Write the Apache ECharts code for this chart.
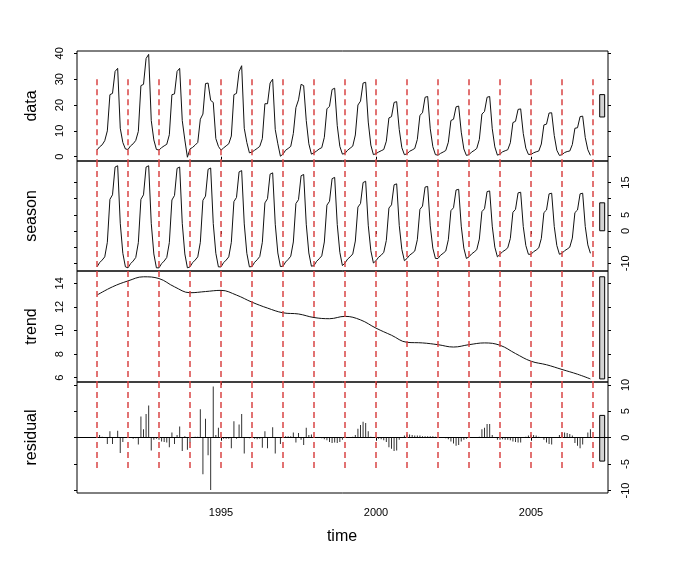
<!DOCTYPE html>
<html>
<head>
<meta charset="utf-8">
<script src="https://cdn.jsdelivr.net/npm/echarts@6/dist/echarts.min.js"></script>
<style>html,body{margin:0;padding:0;background:#fff}#c1{width:685px;height:570px}</style>
</head>
<body>
<div id="c1"></div>
<script>
// monthly series, 1991.0 .. 2006.917 (one row per year)
var startYear = 1991;

var dataVals = [
  2.6, 3.8, 4.6, 6.2, 10.0, 24.0, 24.5, 33.0, 34.2, 11.0, 5.5, 3.0,
  2.8, 4.2, 5.0, 6.3, 9.8, 27.5, 28.0, 38.0, 39.6, 14.0, 6.5, 2.8,
  2.6, 3.5, 4.2, 4.8, 8.5, 24.0, 24.3, 33.0, 34.2, 14.0, 6.5, -0.2,
  3.0, 3.6, 4.5, 5.5, 14.5, 16.5, 28.3, 28.5, 21.8, 21.0, 7.0, 4.0,
  2.5, 3.4, 4.2, 5.0, 8.0, 24.0, 24.5, 33.0, 35.2, 11.0, 5.5, 1.5,
  1.8, 2.5, 3.2, 4.0, 7.0, 20.5, 20.5, 28.5, 30.0, 10.5, 5.0, 0.2,
  1.0, 2.5, 3.2, 4.0, 9.0, 19.0, 22.0, 28.0, 27.5, 14.0, 5.0, 1.0,
  1.5, 2.2, 3.0, 3.5, 7.5, 18.5, 19.5, 26.0, 26.5, 12.0, 4.0, 1.0,
  1.3, 2.5, 3.3, 4.1, 8.4, 20.0, 21.5, 28.5, 28.8, 13.4, 4.5, 0.8,
  1.2, 1.8, 2.3, 2.8, 6.0, 15.0, 15.5, 21.0, 21.3, 10.5, 3.5, 0.8,
  1.1, 2.1, 2.6, 3.2, 6.7, 16.0, 17.0, 23.0, 23.3, 10.8, 3.9, 0.8,
  0.6, 1.3, 1.8, 2.4, 5.6, 14.0, 14.5, 19.3, 19.6, 9.5, 3.0, 0.5,
  0.8, 1.8, 2.4, 3.2, 6.7, 16.5, 17.5, 23.0, 23.3, 10.8, 3.8, 0.6,
  1.0, 1.9, 2.3, 2.7, 5.4, 13.2, 13.7, 18.3, 18.5, 9.0, 3.3, 0.9,
  0.9, 1.5, 1.9, 2.2, 4.9, 12.3, 12.6, 16.9, 17.0, 8.2, 2.5, 0.5,
  0.8, 1.6, 2.0, 2.2, 4.7, 11.0, 11.2, 15.5, 15.7, 7.4, 2.7, 0.5
];

var seasonVals = [
  -11.1, -9.8, -9.0, -8.0, -3.5, 9.8, 11.2, 19.8, 20.2, 2.4, -6.9, -11.1,
  -11.4, -10.1, -9.3, -8.2, -3.6, 9.8, 11.2, 19.8, 20.2, 2.4, -7.1, -11.4,
  -11.4, -10.1, -9.3, -8.2, -3.6, 9.6, 11.0, 19.4, 19.8, 2.4, -7.1, -11.4,
  -11.1, -9.8, -9.0, -8.0, -3.5, 9.5, 10.8, 19.1, 19.5, 2.3, -6.9, -11.1,
  -11.1, -9.8, -9.0, -8.0, -3.5, 9.1, 10.4, 18.3, 18.7, 2.2, -6.9, -11.1,
  -11.0, -9.7, -8.9, -7.9, -3.5, 8.7, 10.0, 17.6, 18.0, 2.1, -6.8, -11.0,
  -10.9, -9.6, -8.8, -7.8, -3.4, 8.5, 9.7, 17.1, 17.5, 2.1, -6.8, -10.9,
  -10.7, -9.4, -8.6, -7.7, -3.4, 8.0, 9.2, 16.2, 16.6, 2.0, -6.6, -10.7,
  -9.9, -8.7, -8.0, -7.1, -3.1, 7.4, 8.5, 15.0, 15.4, 1.8, -6.1, -9.9,
  -9.2, -8.1, -7.5, -6.6, -2.9, 7.1, 8.1, 14.3, 14.6, 1.7, -5.7, -9.2,
  -8.5, -7.5, -6.9, -6.2, -2.7, 6.7, 7.7, 13.6, 13.8, 1.6, -5.3, -8.5,
  -8.5, -7.5, -6.9, -6.2, -2.7, 6.3, 7.2, 12.7, 12.9, 1.5, -5.3, -8.5,
  -8.0, -7.1, -6.5, -5.8, -2.5, 6.0, 6.9, 12.2, 12.4, 1.5, -5.0, -8.0,
  -7.2, -6.4, -5.9, -5.2, -2.3, 5.8, 6.7, 11.8, 12.0, 1.4, -4.5, -7.2,
  -7.2, -6.4, -5.9, -5.2, -2.3, 5.7, 6.5, 11.5, 11.7, 1.4, -4.5, -7.2,
  -6.9, -6.1, -5.6, -5.0, -2.2, 5.7, 6.5, 11.5, 11.7, 1.4, -4.3, -6.9
];

var residVals = [
  0, 0.5, 0.2, 0, -1.2, 1.2, -1.2, 0, 1.3, -2.9, -0.8, 0,
  0, 0.1, -0.2, -0.1, -1.3, 4.0, 1.6, 4.5, 6.1, -2.4, -0.4, -0.2,
  -0.4, -0.7, -0.8, -0.9, -1.8, 1.0, -1.2, 0.5, 2.1, -2.5, 0.3, -2.3,
  -0.9, 0.1, 0.2, 0.2, 5.4, -6.9, 3.6, -3.3, -9.9, 9.7, 0.5, 1.9,
  0, -0.2, -0.2, -0.2, -2.0, 3.1, -0.2, 2.5, 4.5, -3.0, 0.1, -0.1,
  0, -0.2, -0.3, -0.2, -1.9, 1.2, -2.0, 0.1, 2.0, -3.0, 0.1, -1.2,
  0.1, 0.3, 0.3, 0.3, 1.0, -0.9, 0.9, -0.4, -1.4, 1.9, 0.5, 0.6,
  0, 0, 0.05, -0.1, -0.3, -0.5, -0.8, -1.0, -0.9, -1.0, -0.8, -0.4,
  0, 0, 0.1, 0.2, 0.5, 1.7, 2.4, 3.0, 2.8, 1.2, 0.2, 0,
  0, -0.2, -0.3, -0.5, -0.8, -1.8, -2.1, -2.5, -2.4, -0.4, 0, 0.4,
  0.6, 0.6, 0.5, 0.4, 0.4, 0.4, 0.3, 0.3, 0.3, 0.3, 0.3, 0.2,
  0.1, 0, -0.05, -0.1, -0.3, -0.7, -1.1, -1.5, -1.4, -0.7, -0.4, -0.2,
  0, 0, 0, 0.05, 0.2, 1.6, 1.9, 2.6, 2.6, 0.5, 0, -0.4,
  -0.4, -0.3, -0.4, -0.4, -0.5, -0.7, -0.8, -0.9, -0.9, 0, 0.2, 0.4,
  0.5, 0.5, 0.4, 0.2, 0, -0.4, -0.9, -1.2, -1.3, 0, 0.1, 0.5,
  1.0, 1.0, 0.9, 0.7, 0.4, -1.0, -1.5, -2.0, -1.3, 0, 1.0, 1.6
];

// trend read at half-year steps
var trendTime = [1991, 1991.5, 1992, 1992.5, 1993, 1993.5, 1994, 1994.5, 1995, 1995.5,
  1996, 1996.5, 1997, 1997.5, 1998, 1998.5, 1999, 1999.5, 2000, 2000.5,
  2001, 2001.5, 2002, 2002.5, 2003, 2003.5, 2004, 2004.5, 2005, 2005.5,
  2006, 2006.5, 2006.917];
var trendVals = [13.0, 13.7, 14.2, 14.55, 14.4, 13.7, 13.2, 13.3, 13.4, 13.0,
  12.4, 11.9, 11.5, 11.4, 11.1, 11.0, 11.2, 10.9, 10.2, 9.6,
  9.0, 8.95, 8.8, 8.6, 8.8, 8.95, 8.75, 8.05, 7.4, 7.1,
  6.7, 6.3, 5.9];

var redYears = [1991, 1992, 1993, 1994, 1995, 1996, 1997, 1998, 1999, 2000,
  2001, 2002, 2003, 2004, 2005, 2006, 2007];
var redTop = 30, redBottom = -6;   // in data units / residual units

var xTicks = [1995, 2000, 2005];
var panelNames = ['data', 'season', 'trend', 'residual'];
var dataTicks = [0, 10, 20, 30, 40];
var seasonTicks = [-10, -5, 0, 5, 10, 15];
var seasonLabels = [-10, 0, 5, 15];
var trendTicks = [6, 8, 10, 12, 14];
var residTicks = [-10, -5, 0, 5, 10];

var FONT = 'Liberation Sans, Arial, Helvetica, sans-serif';
// 531px wide plot, 31px per year, years land on whole pixels
var xMin = 1991 - 20 / 31, xMax = xMin + 531 / 31;

var time = dataVals.map(function (v, i) { return startYear + i / 12; });
function pairs(vals) { return vals.map(function (v, i) { return [time[i], v]; }); }

var panels = [
  {top: 51, height: 110, min: -1.66, max: 40.9, ticks: dataTicks, labels: dataTicks, side: 'left', vals: dataVals},
  {top: 161, height: 110, min: -12.38, max: 21.67, ticks: seasonTicks, labels: seasonLabels, side: 'right', vals: seasonVals},
  {top: 271, height: 111, min: 5.64, max: 15.04, ticks: trendTicks, labels: trendTicks, side: 'left', vals: trendVals},
  {top: 382, height: 111, min: -10.47, max: 10.55, ticks: residTicks, labels: residTicks, side: 'right', vals: residVals}
];

function range(a) { return [Math.min.apply(null, a), Math.max.apply(null, a)]; }
// range bar height = smallest panel range (as plot.stl does)
var mx = Math.min.apply(null, panels.map(function (p) { var r = range(p.vals); return r[1] - r[0]; }));
var dx = (xMax - xMin) / 64;

function rangeBar(p) {
  var r = range(p.vals), c = (r[0] + r[1]) / 2;
  return {
    silent: true,
    itemStyle: {color: '#d3d3d3', borderColor: '#000', borderWidth: 1},
    data: [[{coord: [xMax - dx, c - mx / 2]}, {coord: [xMax - 0.4 * dx, c + mx / 2]}]]
  };
}

function redLines(top, bot) {
  return redYears.map(function (y) {
    return [{coord: [y, top]}, {coord: [y, bot]}];
  });
}

function plain(v) { return String(v); }

var grids = [], xAxes = [], yAxes = [], series = [];
panels.forEach(function (p, i) {
  grids.push({left: 77, width: 531, top: p.top, height: p.height, show: true,
    borderColor: '#000', borderWidth: 1, backgroundColor: 'transparent'});
  var last = i === panels.length - 1;
  xAxes.push({
    type: 'value', gridIndex: i, min: xMin, max: xMax,
    axisLine: {show: false}, splitLine: {show: false},
    axisTick: {show: true, length: 3, customValues: xTicks, lineStyle: {color: '#000'}},
    axisLabel: {show: last, customValues: xTicks, formatter: plain, margin: 14, fontSize: 11,
      color: '#000', fontFamily: FONT}
  });
  ['left', 'right'].forEach(function (pos) {
    yAxes.push({
      type: 'value', gridIndex: i, position: pos, min: p.min, max: p.max,
      axisLine: {show: false}, splitLine: {show: false},
      axisTick: {show: true, length: 3, customValues: p.ticks, lineStyle: {color: '#000'}},
      axisLabel: {show: pos === p.side, rotate: 90, margin: 12, fontSize: 11, color: '#000',
        fontFamily: FONT, formatter: plain, customValues: p.labels}
    });
  });
});

var lineTop = [redTop, panels[1].max, panels[2].max, panels[3].max];
var lineBot = [panels[0].min, panels[1].min, panels[2].min, redBottom];
var redStyle = {color: '#d94444', width: 1.5, type: [6, 4]};

function markLines(i, extra) {
  var d = redLines(lineTop[i], lineBot[i]);
  return {silent: true, symbol: 'none', label: {show: false}, lineStyle: redStyle,
    data: extra ? extra.concat(d) : d};
}

series.push({type: 'line', xAxisIndex: 0, yAxisIndex: 0, data: pairs(dataVals), showSymbol: false,
  lineStyle: {color: '#111', width: 1}, markLine: markLines(0), markArea: rangeBar(panels[0])});
series.push({type: 'line', xAxisIndex: 1, yAxisIndex: 2, data: pairs(seasonVals), showSymbol: false,
  lineStyle: {color: '#111', width: 1}, markLine: markLines(1), markArea: rangeBar(panels[1])});
series.push({type: 'line', xAxisIndex: 2, yAxisIndex: 4, smooth: 0.4,
  data: trendVals.map(function (v, i) { return [trendTime[i], v]; }), showSymbol: false,
  lineStyle: {color: '#111', width: 1}, markLine: markLines(2), markArea: rangeBar(panels[2])});
series.push({type: 'bar', xAxisIndex: 3, yAxisIndex: 6, data: pairs(residVals), barWidth: 1,
  itemStyle: {color: '#333'},
  markLine: markLines(3, [{yAxis: 0, lineStyle: {color: '#000', width: 1, type: 'solid'}}]),
  markArea: rangeBar(panels[3])});

var titles = panelNames.map(function (n, i) {
  return {type: 'text', x: 32, y: panels[i].top + panels[i].height / 2, rotation: Math.PI / 2,
    style: {text: n, font: '16px ' + FONT, fill: '#000', textAlign: 'center', textVerticalAlign: 'middle'}};
});
titles.push({type: 'text', x: 342, y: 537,
  style: {text: 'time', font: '16px ' + FONT, fill: '#000', textAlign: 'center', textVerticalAlign: 'middle'}});

var c1_chart = echarts.init(document.getElementById('c1'));
c1_chart.setOption({
  animation: false,
  backgroundColor: '#fff',
  grid: grids,
  xAxis: xAxes,
  yAxis: yAxes,
  series: series,
  graphic: titles
});
</script>
</body>
</html>
